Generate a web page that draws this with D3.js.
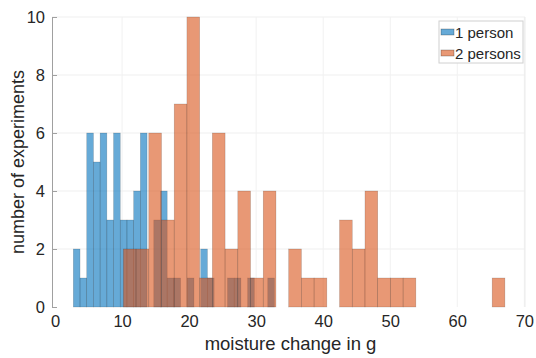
<!DOCTYPE html>
<html>
<head>
<meta charset="utf-8">
<script src="https://cdn.jsdelivr.net/npm/d3@7"></script>
<style>
  body { margin: 0; background: #fff; }
  svg { display: block; font-family: "Liberation Sans", Arial, sans-serif; }
  .tick text { fill: #262626; }
</style>
</head>
<body>
<svg id="viz" width="536" height="358"></svg>
<script>
// counts per bin
var blueCounts = [2, 1, 6, 5, 6, 3, 6, 3, 3, 4, 6, 0, 3, 4, 1, 1, 0, 1, 0, 2, 1, 0, 0, 1, 1, 0, 1, 0, 0, 1];
var orangeCounts = [2, 2, 6, 3, 7, 10, 1, 6, 2, 4, 1, 4, 0, 2, 1, 1, 0, 3, 2, 4, 1, 1, 1, 0, 0, 0, 0, 0, 0, 1];
var blueBinStart = 2.73, blueBinWidth = 1.0;
var orangeBinStart = 10.19, orangeBinWidth = 1.897;
var xTicks = [0, 10, 20, 30, 40, 50, 60, 70];
var yTicks = [0, 2, 4, 6, 8, 10];
var seriesNames = ["1 person", "2 persons"];

(function () {
    'use strict';
    var svg = d3.select("#viz");
    var pl = 52, pr = 525, pt = 17, pb = 307; // plot box

    var xScale = d3.scaleLinear().domain([-0.45, 70.1]).range([pl, pr]);
    var yScale = d3.scaleLinear().domain([0, 10]).range([pb, pt]);

    // grid
    svg.append("g").selectAll("line")
        .data(yTicks.slice(1))
        .enter().append("line")
        .attr("x1", pl).attr("x2", pr)
        .attr("y1", function (d) { return yScale(d); })
        .attr("y2", function (d) { return yScale(d); })
        .attr("stroke", "#efefef").attr("stroke-width", 1);
    svg.append("g").selectAll("line")
        .data(xTicks.slice(1))
        .enter().append("line")
        .attr("y1", pt).attr("y2", pb)
        .attr("x1", function (d) { return xScale(d); })
        .attr("x2", function (d) { return xScale(d); })
        .attr("stroke", "#f1f1f1").attr("stroke-width", 1);

    function bins(counts, start, width) {
        return counts.map(function (c, i) {
            return { x0: start + i * width, x1: start + (i + 1) * width, n: c };
        }).filter(function (d) { return d.n > 0; });
    }

    function drawBars(data, fill) {
        svg.append("g").selectAll("rect")
            .data(data)
            .enter().append("rect")
            .attr("x", function (d) { return xScale(d.x0); })
            .attr("width", function (d) { return xScale(d.x1) - xScale(d.x0); })
            .attr("y", function (d) { return yScale(d.n); })
            .attr("height", function (d) { return yScale(0) - yScale(d.n); })
            .attr("fill", fill).attr("fill-opacity", 0.6)
            .attr("stroke", "#000").attr("stroke-opacity", 0.22).attr("stroke-width", 0.6);
    }

    drawBars(bins(blueCounts, blueBinStart, blueBinWidth), "rgb(0,114,189)");
    drawBars(bins(orangeCounts, orangeBinStart, orangeBinWidth), "rgb(217,83,25)");

    // axes
    var yAxis = d3.axisLeft(yScale).tickValues(yTicks).tickSize(-5).tickPadding(7).tickFormat(d3.format("d"));
    var gy = svg.append("g").attr("transform", "translate(" + pl + ",0)").call(yAxis);
    gy.select(".domain").attr("stroke", "#a0a0a0");
    gy.selectAll(".tick line").attr("stroke", "#a0a0a0");
    gy.selectAll(".tick text").attr("font-size", 16.5).attr("font-family", "Liberation Sans, Arial, sans-serif");

    var xAxis = d3.axisBottom(xScale).tickValues(xTicks).tickSize(0).tickPadding(8).tickFormat(d3.format("d"));
    var gx = svg.append("g").attr("transform", "translate(0," + pb + ")").call(xAxis);
    gx.select(".domain").remove();
    gx.selectAll(".tick text").attr("font-size", 16.5).attr("font-family", "Liberation Sans, Arial, sans-serif");

    // right edge line
    svg.append("line")
        .attr("x1", pr).attr("x2", pr).attr("y1", pt).attr("y2", pb)
        .attr("stroke", "#ebebeb");

    // labels
    svg.append("text")
        .attr("x", (pl + pr) / 2 + 2).attr("y", 350)
        .attr("text-anchor", "middle")
        .attr("font-size", 18.5).attr("fill", "#262626")
        .text("moisture change in g");
    svg.append("text")
        .attr("transform", "translate(24," + ((pt + pb) / 2) + ") rotate(-90)")
        .attr("text-anchor", "middle")
        .attr("font-size", 18).attr("fill", "#262626")
        .text("number of experiments");

    // legend
    var lg = svg.append("g").attr("transform", "translate(439,21)");
    lg.append("rect").attr("width", 84).attr("height", 42)
        .attr("fill", "#fff").attr("stroke", "#d0d0d0");
    var legColors = ["rgb(0,114,189)", "rgb(217,83,25)"];
    seriesNames.forEach(function (name, i) {
        var row = lg.append("g").attr("transform", "translate(2," + (8 + i * 21) + ")");
        row.append("rect").attr("width", 13).attr("height", 6)
            .attr("fill", legColors[i]).attr("fill-opacity", 0.6)
            .attr("stroke", "#000").attr("stroke-opacity", 0.35).attr("stroke-width", 0.7);
        row.append("text").attr("x", 14).attr("y", 9)
            .attr("font-size", 15).attr("fill", "#262626")
            .text(name);
    });
}());
</script>
</body>
</html>
